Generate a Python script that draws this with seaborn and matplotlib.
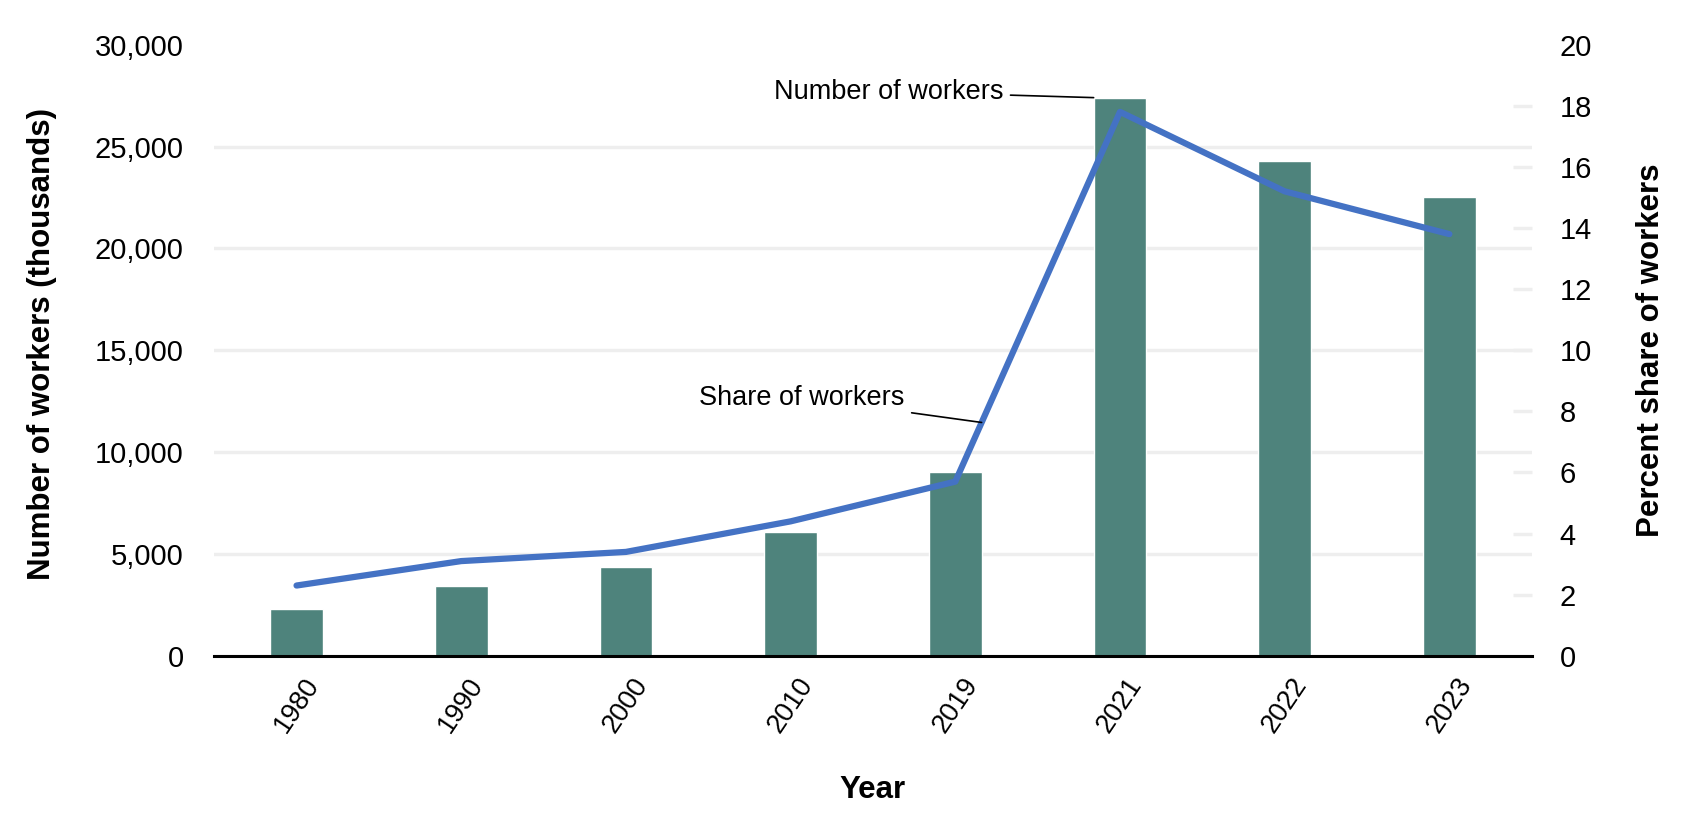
import pandas as pd
import seaborn as sns
import matplotlib
matplotlib.use('Agg')
import matplotlib.pyplot as plt
from matplotlib.ticker import FuncFormatter

# data
years = ['1980', '1990', '2000', '2010', '2019', '2021', '2022', '2023']
workers = [2300, 3450, 4350, 6100, 9000, 27400, 24300, 22500]   # thousands
share = [2.3, 3.1, 3.4, 4.4, 5.7, 17.8, 15.2, 13.8]              # percent

df = pd.DataFrame({'year': years, 'workers': workers, 'share': share})

sns.set_theme(style='white')
plt.rcParams['font.family'] = ['Liberation Sans', 'DejaVu Sans']
plt.rcParams['text.color'] = 'black'
plt.rcParams['axes.labelcolor'] = 'black'

BAR_COLOR = '#4E837C'
LINE_COLOR = '#4472C4'
GRID_COLOR = '#EEEEEE'

fig = plt.figure(figsize=(17, 8.27), dpi=100)
ax = fig.add_axes([0.126, 0.207, 0.775, 0.739])

sns.barplot(data=df, x='year', y='workers', color=BAR_COLOR, width=0.32,
            saturation=1, ax=ax)

ax2 = ax.twinx()
sns.lineplot(data=df, x='year', y='share', color=LINE_COLOR, linewidth=4.5,
             sort=False, ax=ax2)

# left axis
ax.set_xlim(-0.5, len(years) - 0.5)
ax.set_ylim(0, 30000)
ax.set_yticks(range(0, 30001, 5000))
ax.yaxis.set_major_formatter(FuncFormatter(lambda v, p: f'{int(v):,}'))
ax.yaxis.grid(True, color=GRID_COLOR, lw=2.5)
ax.get_ygridlines()[-1].set_visible(False)
ax.set_axisbelow(True)
ax.tick_params(axis='y', length=0, pad=22, labelsize=21, colors='black')
ax.tick_params(axis='x', length=0, pad=12, labelsize=19.5, labelrotation=56,
               colors='black')
for s in ['top', 'left', 'right']:
    ax.spines[s].set_visible(False)
ax.spines['bottom'].set_color('black')
ax.spines['bottom'].set_linewidth(2.2)
ax.spines['bottom'].set_zorder(5)

ax.set_xlabel('Year', fontsize=22.5, fontweight='bold')
ax.xaxis.set_label_coords(0.5, -0.195)
ax.set_ylabel('Number of workers (thousands)', fontsize=22.5, fontweight='bold')
ax.yaxis.set_label_coords(-0.119, 0.51)

# right axis
ax2.set_ylim(0, 20)
ax2.set_yticks(range(0, 21, 2))
ax2.tick_params(axis='y', direction='in', length=14, width=2.5,
                color=GRID_COLOR, pad=20, labelsize=21, labelcolor='black')
right_ticks = ax2.yaxis.get_major_ticks()
right_ticks[0].tick2line.set_visible(False)
right_ticks[-1].tick2line.set_visible(False)
for s in ax2.spines.values():
    s.set_visible(False)
ax2.set_ylabel('Percent share of workers', fontsize=22.5, fontweight='bold')
ax2.yaxis.set_label_coords(1.079, 0.5)
ax2.set_xlabel('')

# callouts
bar = ax.patches[5]
ax.annotate('Number of workers', xy=(bar.get_x(), bar.get_height()),
            xytext=(4.29, 27700), ha='right', va='center', fontsize=19.5,
            color='black',
            arrowprops=dict(arrowstyle='-', color='black', lw=1.2,
                            shrinkA=3, shrinkB=0))

frac = 0.16
ax2.annotate('Share of workers',
             xy=(4 + frac, share[4] + frac * (share[5] - share[4])),
             xytext=(3.69, 8.45), ha='right', va='center', fontsize=19.5,
             color='black',
             arrowprops=dict(arrowstyle='-', color='black', lw=1.2,
                             shrinkA=3, shrinkB=0))

fig.savefig('out.png', dpi=100)
